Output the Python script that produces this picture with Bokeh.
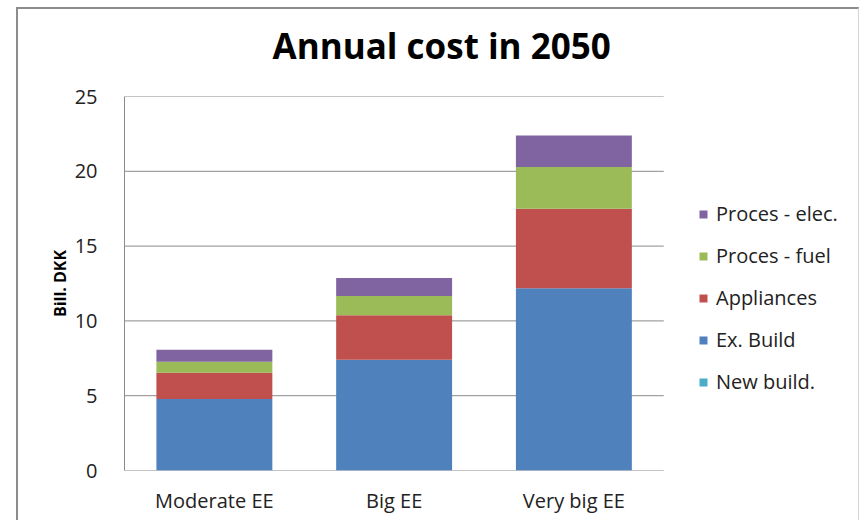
from bokeh.plotting import figure
from bokeh.models import (FactorRange, Range1d, FixedTicker, Legend, LegendItem, Title)
from bokeh.embed import file_html
from bokeh.resources import INLINE

# ---- data ----
categories = ["Moderate EE", "Big EE", "Very big EE"]
new_build = [0.0, 0.0, 0.0]
ex_build = [4.78, 7.40, 12.18]
appliances = [1.75, 2.98, 5.31]
proces_fuel = [0.74, 1.29, 2.80]
proces_elec = [0.80, 1.20, 2.11]
series_names = ["New build.", "Ex. Build", "Appliances", "Proces - fuel", "Proces - elec."]
series_keys = ["new_build", "ex_build", "appliances", "proces_fuel", "proces_elec"]
series_colors = ["#4BACC6", "#4F81BD", "#C0504D", "#9BBB59", "#8064A2"]
y_ticks = [0, 5, 10, 15, 20, 25]

data = dict(cat=categories, new_build=new_build, ex_build=ex_build,
            appliances=appliances, proces_fuel=proces_fuel, proces_elec=proces_elec)

FONT = "Open Sans"
GRID = "#8a8a8a"

# an empty trailing factor leaves room on the right for the legend
factors = categories + [" "]
p = figure(x_range=FactorRange(*factors, range_padding=0),
           y_range=Range1d(0, 25),
           width=843, height=513,
           min_border_left=106, min_border_right=18,
           min_border_top=87, min_border_bottom=52,
           output_backend="svg", toolbar_location=None)
p.styles = {"margin-left": "16px", "margin-top": "7px",
            "border-left": "2px solid #8c8c8c", "border-top": "2px solid #8c8c8c",
            "border-right": "1px solid #d4d4d4"}

# horizontal gridlines spanning only the category area
p.segment(x0=0, x1=len(categories), y0=y_ticks, y1=y_ticks,
          line_color=GRID, line_width=1)

renderers = p.vbar_stack(series_keys, x="cat", width=0.645, source=data,
                         color=series_colors, line_color=None)

p.title = Title(text="Annual cost in 2050", align="left", offset=148,
                text_font=FONT, text_font_size="35px", text_font_style="bold",
                text_color="#000000", standoff=12)
# spacer between title and plot area
p.add_layout(Title(text=" ", text_font_size="10px", standoff=9), "above")

p.outline_line_color = None
p.background_fill_color = "white"
p.border_fill_color = "white"

p.xgrid.grid_line_color = None
p.ygrid.grid_line_color = None
p.yaxis.ticker = FixedTicker(ticks=y_ticks)

for ax in (p.xaxis[0], p.yaxis[0]):
    ax.major_tick_line_color = None
    ax.minor_tick_line_color = None
    ax.major_label_text_font = FONT
    ax.major_label_text_color = "#222222"
p.yaxis.axis_line_color = GRID
p.xaxis.axis_line_color = None

p.yaxis.major_label_text_font_size = "20px"
p.yaxis.major_label_standoff = 21
p.yaxis.axis_label = "Bill. DKK"
p.yaxis.axis_label_text_font = FONT
p.yaxis.axis_label_text_font_size = "16px"
p.yaxis.axis_label_text_font_style = "bold"
p.yaxis.axis_label_text_color = "#000000"
p.yaxis.axis_label_standoff = 1

p.xaxis.major_label_text_font_size = "20px"
p.xaxis.major_label_standoff = 10

items = [LegendItem(label=series_names[i], renderers=[renderers[i]]) for i in range(len(renderers))]
items = items[::-1]
legend = Legend(items=items, location=(574, 75), orientation="vertical",
                glyph_width=10, glyph_height=10, label_height=20, spacing=15,
                label_standoff=8, padding=0, margin=0,
                border_line_color=None, background_fill_alpha=0,
                label_text_font=FONT, label_text_font_size="20px",
                label_text_color="#222222")
p.add_layout(legend, "center")

open("out.html", "w").write(file_html(p, INLINE))
